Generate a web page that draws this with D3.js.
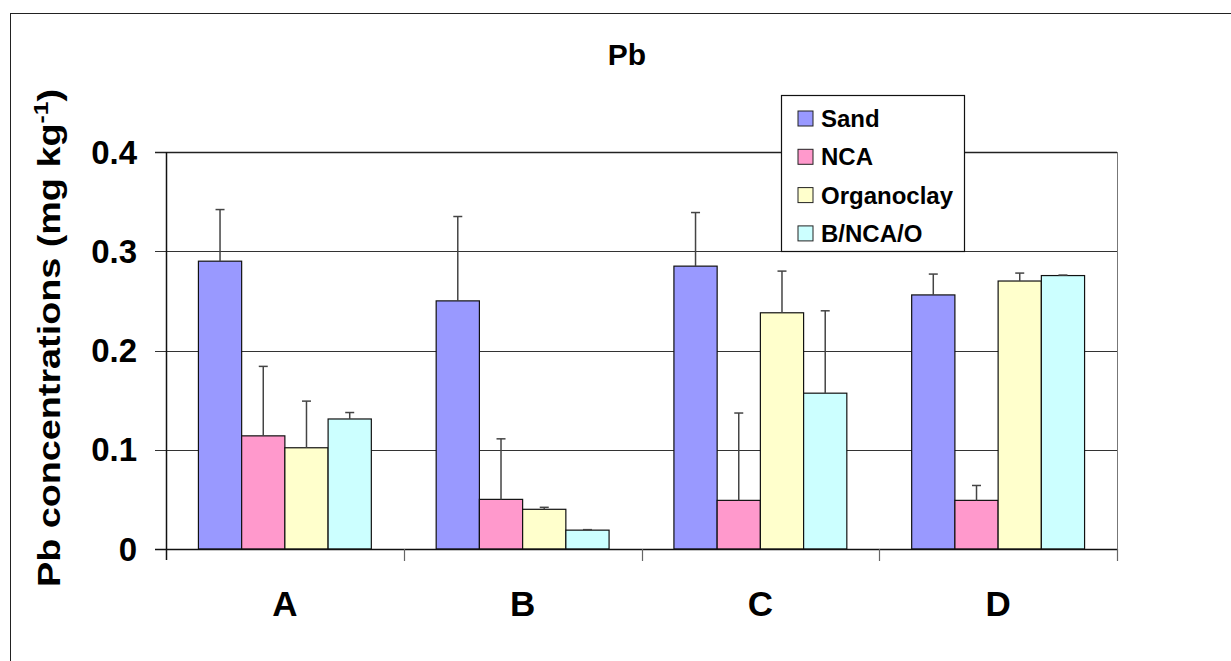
<!DOCTYPE html>
<html>
<head>
    <meta charset="utf-8">
    <title>Pb</title>
    <script src="https://d3js.org/d3.v7.min.js"></script>
    <style>
        body { margin: 0; background: #fff; }
        text { font-family: 'Liberation Sans', Arial, sans-serif; font-weight: bold; fill: #000; }
    </style>
</head>
<body>
    <svg id="chart" width="1231" height="661"></svg>
    <script>
        // data
        const categories = ["A", "B", "C", "D"];
        const series = ["Sand", "NCA", "Organoclay", "B/NCA/O"];
        const colors = ["#9999ff", "#ff99cc", "#ffffcc", "#ccffff"];
        const values = [
            [0.290, 0.250, 0.285, 0.256],   // Sand
            [0.114, 0.050, 0.049, 0.049],   // NCA
            [0.102, 0.040, 0.238, 0.270],   // Organoclay
            [0.131, 0.019, 0.157, 0.2755]   // B/NCA/O
        ];
        const errors = [
            [0.052, 0.085, 0.054, 0.021],
            [0.070, 0.061, 0.088, 0.015],
            [0.047, 0.002, 0.042, 0.008],
            [0.0065, 0.0005, 0.083, 0.0005]
        ];
        const yTicks = [0, 0.1, 0.2, 0.3, 0.4];

        const svg = d3.select("#chart");
        const pLeft = 166, pRight = 1117, pTop = 152, pBottom = 549;

        // outer chart frame (only left/top visible in window)
        svg.append("rect")
            .attr("x", 10.5).attr("y", 13.5)
            .attr("width", 1400).attr("height", 800)
            .attr("fill", "none").attr("stroke", "#222").attr("stroke-width", 1);

        let x = d3.scaleBand().domain(categories).range([pLeft, pRight]).padding(0);
        let xInner = d3.scaleBand().domain(series).range([0, x.bandwidth()])
                        .paddingInner(0).paddingOuter(0.75);
        let y = d3.scaleLinear().domain([0, 0.4]).range([pBottom, pTop]);

        // gridlines + ticks
        svg.append("g").selectAll("line").data(yTicks.slice(1)).enter()
            .append("line")
            .attr("x1", pLeft - 11).attr("x2", pRight)
            .attr("y1", d => Math.round(y(d)) + 0.5).attr("y2", d => Math.round(y(d)) + 0.5)
            .attr("stroke", d => d == 0.4 ? "#222" : "#333").attr("stroke-width", d => d == 0.4 ? 1.5 : 1);

        // right border
        svg.append("line")
            .attr("x1", pRight + 0.5).attr("x2", pRight + 0.5)
            .attr("y1", pTop).attr("y2", pBottom)
            .attr("stroke", "#777").attr("stroke-width", 1);

        // y tick labels
        svg.append("g").selectAll("text").data(yTicks).enter()
            .append("text")
            .attr("x", 137).attr("y", d => y(d) + 11.5)
            .attr("text-anchor", "end")
            .style("font-size", "33px")
            .text(d => d == 0 ? "0" : d.toFixed(1));

        // bars
        let groups = svg.append("g").selectAll("g").data(series).enter()
            .append("g")
            .attr("fill", (d, i) => colors[i]);

        groups.selectAll("rect")
            .data((s, si) => categories.map((c, ci) => ({c, s, v: values[si][ci], e: errors[si][ci]})))
            .enter().append("rect")
            .attr("x", d => x(d.c) + xInner(d.s))
            .attr("y", d => y(d.v))
            .attr("width", xInner.bandwidth())
            .attr("height", d => y(0) - y(d.v))
            .attr("stroke", "#111").attr("stroke-width", 1.2);

        // error bars (upper only)
        let errs = svg.append("g").attr("stroke", "#444").attr("stroke-width", 1.5);
        series.forEach((s, si) => {
            categories.forEach((c, ci) => {
                let cx = x(c) + xInner(s) + xInner.bandwidth() / 2;
                let v = values[si][ci], e = errors[si][ci];
                errs.append("line")
                    .attr("x1", cx).attr("x2", cx)
                    .attr("y1", y(v)).attr("y2", y(v + e));
                errs.append("line")
                    .attr("x1", cx - 4.5).attr("x2", cx + 4.5)
                    .attr("y1", y(v + e)).attr("y2", y(v + e));
            });
        });

        // axes lines
        svg.append("line")
            .attr("x1", pLeft - 11).attr("x2", pRight)
            .attr("y1", pBottom + 0.5).attr("y2", pBottom + 0.5)
            .attr("stroke", "#111").attr("stroke-width", 1.5);
        svg.append("line")
            .attr("x1", pLeft + 0.5).attr("x2", pLeft + 0.5)
            .attr("y1", pTop).attr("y2", pBottom + 11)
            .attr("stroke", "#111").attr("stroke-width", 1.5);

        // x ticks at category boundaries
        let bounds = categories.map(c => x(c)).concat([pRight]);
        svg.append("g").selectAll("line").data(bounds.slice(1)).enter()
            .append("line")
            .attr("x1", d => Math.round(d) + 0.5).attr("x2", d => Math.round(d) + 0.5)
            .attr("y1", pBottom).attr("y2", pBottom + 12)
            .attr("stroke", "#666").attr("stroke-width", 1.2);

        // x labels
        svg.append("g").selectAll("text").data(categories).enter()
            .append("text")
            .attr("x", d => x(d) + x.bandwidth() / 2)
            .attr("y", 616)
            .attr("text-anchor", "middle")
            .style("font-size", "35px")
            .text(d => d);

        // title
        svg.append("text")
            .attr("x", 627).attr("y", 65)
            .attr("text-anchor", "middle")
            .style("font-size", "30px")
            .text("Pb");

        // y axis title (stretched along its length like the original)
        let yt = svg.append("text")
            .attr("transform", "translate(60,338) rotate(-90) scale(1.18,1)")
            .attr("text-anchor", "middle")
            .style("font-size", "32px");
        yt.append("tspan").text("Pb concentrations (mg kg");
        yt.append("tspan").attr("dy", -12).style("font-size", "21px").text("-1");
        yt.append("tspan").attr("dy", 12).text(")");

        // legend
        let lg = svg.append("g");
        lg.append("rect")
            .attr("x", 781.5).attr("y", 95.5)
            .attr("width", 183).attr("height", 156)
            .attr("fill", "#fff").attr("stroke", "#111").attr("stroke-width", 1.2);
        let items = lg.selectAll("g.item").data(series).enter()
            .append("g").attr("class", "item")
            .attr("transform", (d, i) => "translate(0," + (118.5 + i * 38.3) + ")");
        items.append("rect")
            .attr("x", 798).attr("y", -7.5)
            .attr("width", 15).attr("height", 15)
            .attr("fill", (d, i) => colors[i])
            .attr("stroke", "#222").attr("stroke-width", 1);
        items.append("text")
            .attr("x", 821).attr("y", 8.5)
            .style("font-size", "24px")
            .text(d => d);
    </script>
</body>
</html>
